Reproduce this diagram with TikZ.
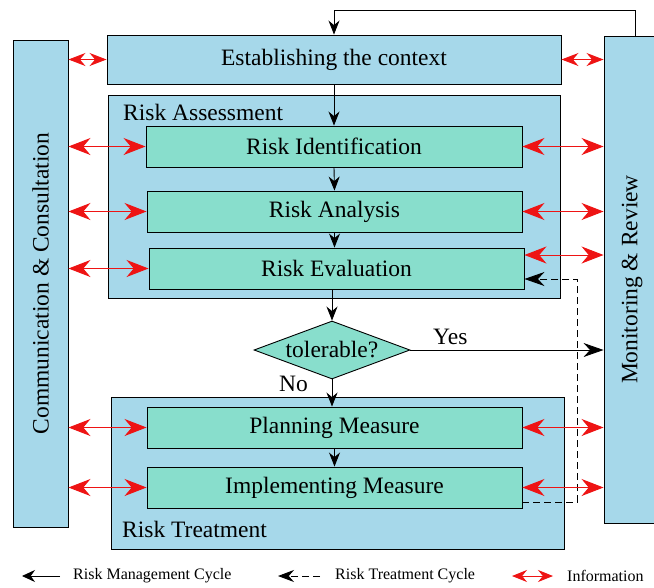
\documentclass[tikz,border=0pt]{standalone}
\usepackage{fontspec}
\setmainfont{Liberation Serif}
\usepackage{tikz}
\usetikzlibrary{positioning}
\usetikzlibrary{shapes.geometric}
\usetikzlibrary{arrows.meta}
\usepackage{xcolor}
\definecolor{outerblue}{RGB}{166,216,234}
\definecolor{innergreen}{RGB}{136,222,204}
\definecolor{infored}{RGB}{238,20,20}

\begin{document}
\begin{tikzpicture}[x=1pt, y=-1pt,
    every node/.style={font=\fontsize{23.5}{28}\selectfont},
    outerbox/.style={draw, line width=0.9pt, fill=outerblue, inner sep=0},
    stepbox/.style={draw, line width=0.9pt, fill=innergreen, minimum width=375, minimum height=41, inner sep=0},
    cyc/.style={black, line width=0.9pt, -{Stealth[length=14pt,width=11pt]}},
    trt/.style={black, line width=0.9pt, dash pattern=on 7pt off 4pt, -{Stealth[length=20pt,width=14pt]}},
    info/.style={infored, line width=1pt, {Stealth[length=22pt,width=17pt]}-{Stealth[length=22pt,width=17pt]}},
    smallinfo/.style={infored, line width=1pt, {Stealth[length=17pt,width=13pt]}-{Stealth[length=17pt,width=13pt]}},
    legend/.style={font=\fontsize{16}{19}\selectfont, anchor=west, inner sep=0}]
    \useasboundingbox (0,0) rectangle (654,587);
    \node[outerbox, minimum width=55, minimum height=487] (comm) at (40.5,283.5) {\rotatebox{90}{Communication \& Consultation}};
    \node[outerbox, minimum width=56, minimum height=487] (mon) at (632,279.5) {\rotatebox{90}{Monitoring \& Review}};
    \node[outerbox, minimum width=454, minimum height=49] (est) at (334,59.5) {Establishing the context};
    \node[outerbox, minimum width=452, minimum height=203] (ra) at (334,196.5) {};
    \node[anchor=base west, inner sep=0] (ralabel) at (123,120) {Risk Assessment};
    \node[stepbox, minimum width=376] (rid) at (334,146.5) {Risk Identification};
    \node[stepbox] (ran) at (334.5,211.5) {Risk Analysis};
    \node[stepbox] (rev) at (336.5,268.5) {Risk Evaluation};
    \node[diamond, draw, line width=0.9pt, fill=innergreen, aspect=2.7, minimum width=156, minimum height=58, inner sep=0] (tol) at (332,350) {tolerable?};
    \node[outerbox, minimum width=453, minimum height=152] (rt) at (337.5,473) {};
    \node[anchor=base west, inner sep=0] (rtlabel) at (122,537) {Risk Treatment};
    \node[stepbox] (plan) at (334.5,427.5) {Planning Measure};
    \node[stepbox] (impl) at (334.5,487.5) {Implementing Measure};
    \node[anchor=base west, inner sep=0] (yes) at (433,344) {Yes};
    \node[anchor=base west, inner sep=0] (no) at (279,391) {No};

    \coordinate (loop) at (635,10);
    \draw[cyc] (mon.north -| loop) -- (loop) -| (est.north);
    \draw[cyc] (est.south) -- (rid.north);
    \draw[cyc] (rid.south) -- (ran.north);
    \draw[cyc] (ran.south) -- (ran.south |- rev.north);
    \draw[cyc] (rev.south -| tol.north) -- (tol.north);
    \draw[cyc] (tol.south) -- (tol.south |- plan.north);
    \draw[cyc] (plan.south) -- (impl.north);
    \draw[cyc, -{Stealth[length=20pt,width=14pt]}] (tol.east) -- (tol.east -| mon.west);
    \draw[trt] ([yshift=-14.5pt]impl.east) -- ++(55,0) |- ([yshift=-10.5pt]rev.east);

    \draw[smallinfo] (comm.east |- est.west) -- (est.west);
    \draw[smallinfo] (est.east) -- (est.east -| mon.west);
    \foreach \n in {rid,ran,plan,impl} {
        \draw[info] (comm.east |- \n.west) -- (\n.west);
        \draw[info] (\n.east) -- (\n.east -| mon.west);
    }
    \draw[info] (comm.east |- rev.west) -- (rev.west);
    \draw[info] ([yshift=13.5pt]rev.east) -- ([yshift=13.5pt]rev.east -| mon.west);

    \node[legend] (lgcyc) at (73,576) {Risk Management Cycle};
    \node[legend] (lgtrt) at (335,576) {Risk Treatment Cycle};
    \node[legend] (lginfo) at (567,576) {Information};
    \draw[cyc, -{Stealth[length=13pt,width=12pt]}] ([xshift=-13pt]lgcyc.west) -- ([xshift=-51pt]lgcyc.west);
    \draw[trt, -{Stealth[length=16pt,width=12pt]}] ([xshift=-15pt]lgtrt.west) -- ([xshift=-57pt]lgtrt.west);
    \draw[smallinfo, {Stealth[length=15pt,width=12pt]}-{Stealth[length=15pt,width=12pt]}] ([xshift=-14pt]lginfo.west) -- ([xshift=-55pt]lginfo.west);
\end{tikzpicture}
\end{document}
